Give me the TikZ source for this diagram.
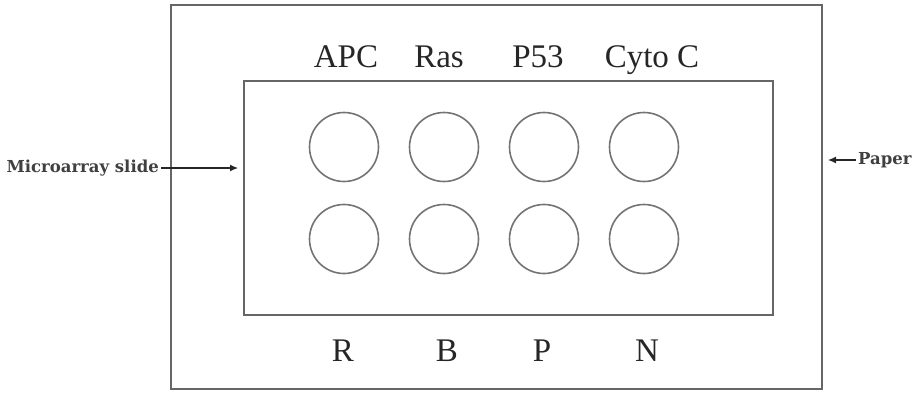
\documentclass[tikz,border=0pt]{standalone}
\usepackage{fontspec}
\setmainfont{Liberation Serif}
\newfontfamily\labelfont{DejaVu Serif}
\usetikzlibrary{arrows.meta}
\begin{document}
\begin{tikzpicture}[x=1pt,y=-1pt,
  frame/.style={draw=black!60,line width=1.8pt},
  well/.style={circle,draw=black!55,line width=1.6pt,minimum size=69pt,inner sep=0pt},
  gene/.style={font=\fontsize{33}{38}\selectfont,text=black!85,anchor=base},
  tag/.style={font=\labelfont\bfseries\fontsize{16.5}{19}\selectfont,text=black!75,inner sep=2pt},
  pointer/.style={draw=black!85,line width=1.2pt,-{Latex[length=8pt,width=7pt]}}]
\useasboundingbox (0,0) rectangle (919,392);
% paper sheet and microarray slide
\draw[frame] (171,5) rectangle (822,389);
\node[frame,draw,minimum width=529pt,minimum height=234pt,inner sep=0pt] (slide) at (508.5,198) {};
\coordinate (slideedge) at (238,168);
\coordinate (paperedge) at (828,160);
% wells
\foreach \i/\x in {1/344,2/444,3/544,4/644}{
  \node[well] (t\i) at (\x,147) {};
  \node[well] (b\i) at (\x,239) {};
}
% gene labels
\node[gene] (gA) at (346,67) {APC};
\node[gene] (gB) at (439,67) {Ras};
\node[gene] (gC) at (538,67) {P53};
\node[gene] (gD) at (652,67) {Cyto C};
% bottom letters
\node[gene] (lR) at (343,361) {R};
\node[gene] (lB) at (447,361) {B};
\node[gene] (lP) at (542,361) {P};
\node[gene] (lN) at (647,361) {N};
% side labels and pointers
\node[tag,anchor=east] (ms) at (161,168) {Microarray slide};
\node[tag,anchor=west] (pp) at (856,160) {Paper};
\draw[pointer] (ms.east) -- (ms.east -| slideedge);
\draw[pointer] (pp.west) -- (pp.west -| paperedge);
\end{tikzpicture}
\end{document}
